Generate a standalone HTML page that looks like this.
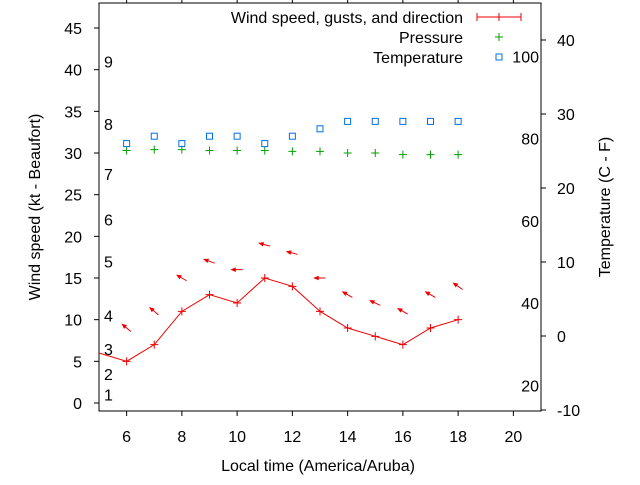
<!DOCTYPE html>
<html><head><meta charset="utf-8"><style>
body{margin:0;background:#fff}
svg text{font-family:"Liberation Sans",sans-serif;font-size:16px;fill:#000}
</style></head><body>
<svg width="640" height="480" xmlns="http://www.w3.org/2000/svg">
<g id="axes"></g><g id="marks"></g>
<text x="318" y="471" text-anchor="middle">Local time (America/Aruba)</text>
<text transform="translate(40,207) rotate(-90)" text-anchor="middle">Wind speed (kt - Beaufort)</text>
<text transform="translate(610,207) rotate(-90)" text-anchor="middle">Temperature (C - F)</text>
<g>
<text x="463" y="23" text-anchor="end">Wind speed, gusts, and direction</text>
<path d="M477 17H521M477 13V21M521 13V21M499 13V21" stroke="#e00" fill="none"/>
<text x="463" y="43" text-anchor="end">Pressure</text>
<path d="M495 37H503M499 33V41" stroke="#00a000"/>
<text x="463" y="63" text-anchor="end">Temperature</text>
<rect x="496" y="54" width="6" height="6" stroke="#0070e0" fill="none"/>
</g>
</svg>
<script>
const hours=[5,6,7,8,9,10,11,12,13,14,15,16,17,18];
const windSpeed=[6,5,7,11,13,12,15,14,11,9,8,7,9,10];
const gustHours=[6,7,8,9,10,11,12,13,14,15,16,17,18];
const gustSpeed=[9,11,15,17,16,19,18,15,13,12,11,13,14];
const windDirAngle=[140,140,150,160,180,165,165,180,150,155,150,150,145];
const pressHours=[6,7,8,9,10,11,12,13,14,15,16,17,18];
const pressure=[30.3,30.4,30.4,30.3,30.3,30.3,30.2,30.2,30.0,30.0,29.8,29.8,29.8];
const tempC=[26,27,26,27,27,26,27,28,29,29,29,29,29];
const xTicks=[6,8,10,12,14,16,18,20];
const yTicks=[0,5,10,15,20,25,30,35,40,45];
const y2Ticks=[-10,0,10,20,30,40];
const beaufortLabels=['1','2','3','4','5','6','7','8','9'];
const beaufortKt=[1,3.5,6.5,10.5,17,22,27.5,33.5,41];
const fLabels=[20,40,60,80,100];
const L=99,R=541,T=3,B=411;
const X=v=>L+(v-5)/16*(R-L);
const Y=v=>403-v*375/45;
const Y2=v=>336-v*7.4;
const NS='http://www.w3.org/2000/svg';
const ax=document.getElementById('axes'),mk=document.getElementById('marks');
function el(p,t,a){const e=document.createElementNS(NS,t);for(const k in a)e.setAttribute(k,a[k]);p.appendChild(e);return e;}
const fr=el(ax,'rect',{x:L,y:T,width:R-L,height:B-T,fill:'none',stroke:'#000'});


xTicks.forEach(v=>{const x=X(v);
const t=el(ax,'path',{d:`M${x} ${B}v5M${x} ${T}v-5`,stroke:'#000'});


const s=el(ax,'text',{x:x,y:B+31,'text-anchor':'middle'});s.textContent=v;

});
yTicks.forEach(v=>{const y=Y(v);
const t=el(ax,'path',{d:`M${L} ${y}h-5`,stroke:'#000'});


const s=el(ax,'text',{x:L-17,y:y+6,'text-anchor':'end'});s.textContent=v;

});
y2Ticks.forEach(v=>{const y=Y2(v);
const t=el(ax,'path',{d:`M${R} ${y}h5`,stroke:'#000'});


const s=el(ax,'text',{x:R+16,y:y+6,'text-anchor':'start'});s.textContent=v;

});
beaufortLabels.forEach((b,i)=>{const s=el(ax,'text',{x:104,y:Y(beaufortKt[i])+6});s.textContent=b;

});
fLabels.forEach(f=>{const s=el(ax,'text',{x:539,y:Y2((f-32)*5/9)+6,'text-anchor':'end'});s.textContent=f;

});
const ln=el(mk,'polyline',{points:hours.map((h,i)=>X(h)+','+Y(windSpeed[i])).join(' '),fill:'none',stroke:'#e00'});


hours.forEach((h,i)=>{if(h<6)return;const x=X(h),y=Y(windSpeed[i]);
const p=el(mk,'path',{d:`M${x-4} ${y}h8M${x} ${y-4}v8`,stroke:'#e00'});

});
gustHours.forEach((h,i)=>{const cx=X(h),cy=Y(gustSpeed[i]);const a=windDirAngle[i]*Math.PI/180;
const dx=Math.cos(a)*5.5,dy=-Math.sin(a)*5.5;const hx=cx+dx,hy=cy+dy;
const b1=a+Math.PI-0.4,b2=a+Math.PI+0.4;
const d=`M${cx-dx} ${cy-dy}L${hx} ${hy}M${hx} ${hy}L${hx+Math.cos(b1)*4} ${hy-Math.sin(b1)*4}L${hx+Math.cos(b2)*4} ${hy-Math.sin(b2)*4}Z`;
const p=el(mk,'path',{d:d,stroke:'#e00',fill:'#e00','stroke-width':1});

});
pressHours.forEach((h,i)=>{const x=X(h),y=Y(pressure[i]);
const p=el(mk,'path',{d:`M${x-4} ${y}h8M${x} ${y-4}v8`,stroke:'#00a000'});

});
pressHours.forEach((h,i)=>{const x=X(h),y=Y2(tempC[i]);
const p=el(mk,'rect',{x:x-3,y:y-3,width:6,height:6,fill:'none',stroke:'#0070e0'});

});
</script>
</body></html>
